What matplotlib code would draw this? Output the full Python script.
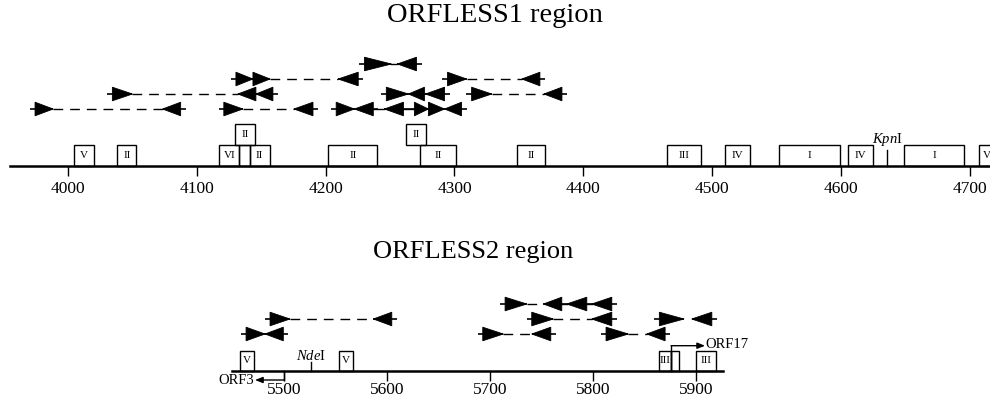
import matplotlib
matplotlib.use("Agg")
import matplotlib.pyplot as plt
from matplotlib.patches import Polygon, Rectangle

plt.rcParams["font.family"] = ["Liberation Serif", "DejaVu Serif"]
plt.rcParams["mathtext.fontset"] = "custom"
plt.rcParams["mathtext.rm"] = "Liberation Serif"
plt.rcParams["mathtext.it"] = "Liberation Serif:italic"

# ---------------- ORFLESS1 region (bp) ----------------
top_title = "ORFLESS1 region"
top_ticks = [4000, 4100, 4200, 4300, 4400, 4500, 4600, 4700]
top_line = (3955, 4716)

top_box_start = [4004.9, 4038.2, 4117.6, 4132.9, 4141.0, 4129.8, 4202.2, 4262.1,
                 4273.1, 4348.4, 4465.2, 4510.0, 4552.2, 4605.1, 4648.8, 4707.2]
top_box_end = [4019.9, 4053.2, 4132.9, 4141.0, 4156.5, 4145.3, 4240.1, 4277.7,
               4300.9, 4370.4, 4491.1, 4529.5, 4599.4, 4624.8, 4695.5, 4722.0]
top_box_label = ["V", "II", "VI", "", "II", "II", "II", "II",
                 "II", "II", "III", "IV", "I", "IV", "I", "VI"]
top_box_level = [0, 0, 0, 0, 0, 1, 0, 1, 0, 0, 0, 0, 0, 0, 0, 0]

top_site_name = [r"$\mathit{Kpn}$I"]
top_site_pos = [4636.0]

# inverted repeats: row 0 is closest to the line
top_arrow_row = [0, 0, 0, 0, 0, 0, 0, 0, 0, 0,
                 1, 1, 1, 1, 1, 1, 1, 1,
                 2, 2, 2, 2, 2,
                 3, 3]
top_arrow_base = [3974.5, 4087.5, 4121.0, 4190.2, 4208.2, 4237.0, 4260.4, 4268.9, 4279.8, 4305.5,
                  4034.5, 4145.9, 4159.1, 4247.1, 4276.7, 4292.3, 4313.3, 4383.4,
                  4130.4, 4143.6, 4225.3, 4294.6, 4366.3,
                  4230.1, 4270.5]
top_arrow_tip = [3988.6, 4073.5, 4135.8, 4175.4, 4222.3, 4222.3, 4245.6, 4279.8, 4292.3, 4292.3,
                 4050.1, 4131.9, 4145.9, 4264.3, 4264.3, 4277.5, 4328.9, 4369.4,
                 4143.6, 4156.9, 4209.7, 4309.4, 4352.3,
                 4251.1, 4255.7]

top_link_row = [0, 0, 0, 0, 1, 1, 2, 2, 3]
top_link_from = [3988.6, 4135.8, 4237.0, 4260.4, 4050.1, 4328.9, 4156.9, 4309.4, 4251.1]
top_link_to = [4073.5, 4175.4, 4245.6, 4268.9, 4131.9, 4369.4, 4209.7, 4352.3, 4255.7]
top_link_dash = [True, True, False, False, True, True, True, True, False]

# ---------------- ORFLESS2 region (bp) ----------------
bot_title = "ORFLESS2 region"
bot_ticks = [5500, 5600, 5700, 5800, 5900]
bot_line = (5449.2, 5926.6)

bot_box_start = [5457.0, 5553.5, 5864.4, 5875.8, 5900.1]
bot_box_end = [5470.8, 5566.5, 5875.8, 5883.9, 5919.5]
bot_box_label = ["V", "V", "III", "", "III"]
bot_box_level = [0, 0, 0, 0, 0]

bot_site_name = [r"$\mathit{Nde}$I"]
bot_site_pos = [5525.9]

bot_arrow_row = [0, 0, 0, 0, 0, 0,
                 1, 1, 1, 1, 1, 1,
                 2, 2, 2, 2]
bot_arrow_base = [5462.8, 5499.0, 5692.8, 5758.9, 5812.6, 5870.0,
                  5486.1, 5604.4, 5740.4, 5818.2, 5864.4, 5915.4,
                  5714.5, 5769.6, 5793.9, 5818.2]
bot_arrow_tip = [5481.2, 5481.2, 5712.8, 5740.4, 5834.3, 5852.2,
                 5505.5, 5586.5, 5761.4, 5798.7, 5888.4, 5895.9,
                 5735.6, 5751.7, 5774.4, 5798.7]

bot_link_row = [0, 0, 1, 1, 2, 2, 2]
bot_link_from = [5712.8, 5834.3, 5505.5, 5761.4, 5735.6, 5769.6, 5793.9]
bot_link_to = [5740.4, 5852.2, 5586.5, 5798.7, 5751.7, 5774.4, 5798.7]
bot_link_dash = [True, True, True, True, True, False, False]

# ORF arrows: start, end
orf3 = (5500.0, 5471.5)
orf17 = (5875.8, 5908.8)


def draw_panel(ax, ticks, line, starts, ends, labels, levels, site_names, site_pos,
               arow, abase, atip, lrow, lfrom, lto, ldash,
               line_y, row0_y, box_h, site_h, site_lab_dy, tail, label_pad):
    ax.set_facecolor("none")
    for s in ["top", "left", "right"]:
        ax.spines[s].set_visible(False)
    ax.spines["bottom"].set_position(("data", line_y))
    ax.spines["bottom"].set_bounds(line[0], line[1])
    ax.spines["bottom"].set_linewidth(1.8)
    ax.set_yticks([])
    ax.set_xticks(ticks)
    ax.tick_params(axis="x", direction="out", length=7.5, width=1.0,
                   labelsize=12.5, pad=label_pad)

    for x0, x1, lab, lev in zip(starts, ends, labels, levels):
        y0 = line_y - box_h * (lev + 1)
        ax.add_patch(Rectangle((x0, y0), x1 - x0, box_h, fill=False,
                               lw=1.0, ec="black"))
        if lab:
            ax.text((x0 + x1) / 2, y0 + box_h / 2, lab, ha="center",
                    va="center", fontsize=8, clip_on=True)

    for name, x in zip(site_names, site_pos):
        ax.plot([x, x], [line_y, line_y - site_h], color="black", lw=1.0)
        ax.text(x, line_y - site_h - site_lab_dy, name, ha="center",
                va="center", fontsize=10.5)

    half = 6.8
    for r, b, t in zip(arow, abase, atip):
        y = row0_y - 15 * r
        d = 1 if t > b else -1
        ax.plot([b - d * tail, t], [y, y], color="black", lw=1.2,
                solid_capstyle="butt")
        ax.add_patch(Polygon([(b, y - half), (b, y + half), (t, y)],
                             closed=True, fc="black", ec="black", lw=0.6))

    for r, x0, x1, dash in zip(lrow, lfrom, lto, ldash):
        y = row0_y - 15 * r
        ax.plot([x0, x1], [y, y], color="black", lw=1.0,
                ls=(0, (7, 5)) if dash else "-")


fig = plt.figure(figsize=(9.9, 4.0), dpi=100)

ax1 = fig.add_axes([0, 0.5, 1, 0.5])
ax1.set_xlim(3947.3, 4715.6)
ax1.set_ylim(200, 0)
draw_panel(ax1, top_ticks, top_line, top_box_start, top_box_end, top_box_label,
           top_box_level, top_site_name, top_site_pos,
           top_arrow_row, top_arrow_base, top_arrow_tip,
           top_link_row, top_link_from, top_link_to, top_link_dash,
           line_y=165.7, row0_y=109, box_h=21, site_h=16, site_lab_dy=10,
           tail=4, label_pad=3.5)

ax2 = fig.add_axes([0, 0, 1, 0.5])
ax2.set_xlim(5223.7, 6185.7)
ax2.set_ylim(400, 200)
draw_panel(ax2, bot_ticks, bot_line, bot_box_start, bot_box_end, bot_box_label,
           bot_box_level, bot_site_name, bot_site_pos,
           bot_arrow_row, bot_arrow_base, bot_arrow_tip,
           bot_link_row, bot_link_from, bot_link_to, bot_link_dash,
           line_y=371, row0_y=334, box_h=20.3, site_h=9.3, site_lab_dy=5.5,
           tail=5, label_pad=0.5)

# ORF3 arrow pointing left below the line, ORF17 arrow above
ax2.plot([orf3[0], orf3[0]], [371, 380], color="black", lw=1.0)
ax2.annotate("", xy=(orf3[1], 380), xytext=(orf3[0], 380),
             arrowprops=dict(arrowstyle="-|>,head_length=0.45,head_width=0.18",
                             color="black", lw=1.0, shrinkA=0, shrinkB=0))
ax2.text(orf3[1] - 0.5, 380, "ORF3", ha="right", va="center", fontsize=10.5)

ax2.plot([orf17[0], orf17[0]], [371, 345.7], color="black", lw=1.0)
ax2.annotate("", xy=(orf17[1], 345.7), xytext=(orf17[0], 345.7),
             arrowprops=dict(arrowstyle="-|>,head_length=0.45,head_width=0.18",
                             color="black", lw=1.0, shrinkA=0, shrinkB=0))
ax2.text(orf17[1] + 0.8, 344, "ORF17", ha="left", va="center", fontsize=10.5)

fig.text(495 / 990, 1 - 15 / 400, top_title, ha="center", va="center", fontsize=20.5)
fig.text(473 / 990, 1 - 252 / 400, bot_title, ha="center", va="center", fontsize=19)

fig.savefig("out.png", dpi=100)
